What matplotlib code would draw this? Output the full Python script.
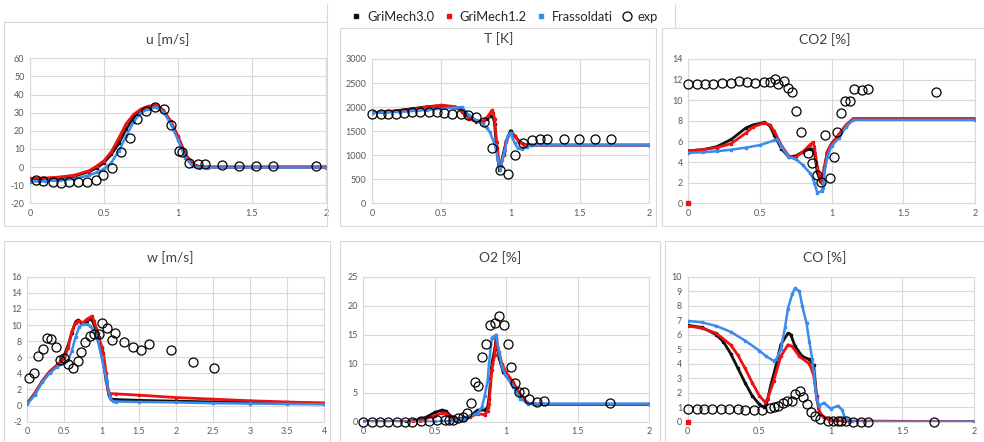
import matplotlib
matplotlib.use("Agg")
import matplotlib.pyplot as plt
from matplotlib.lines import Line2D
from matplotlib.patches import Rectangle

plt.rcParams['font.family'] = ['Lato', 'DejaVu Sans']

# ---------------- data ----------------
# u [m/s]
u_gm30_x = [0, 0.1, 0.2, 0.3, 0.4, 0.45, 0.5, 0.55, 0.6, 0.65, 0.7, 0.75, 0.8, 0.85, 0.9, 0.95, 1.0, 1.05, 1.1, 1.15, 1.2, 1.5, 2.0]
u_gm30 = [-6.5, -6.3, -6.0, -5.0, -2.5, -0.5, 2.5, 7, 13, 21, 27.5, 31.5, 33, 33.5, 31, 25, 16.5, 7, 1.5, 0, 0, 0, 0]
u_gm12_x = u_gm30_x
u_gm12 = [-6.3, -6.1, -5.5, -4.5, -2, 0.5, 3.5, 8.5, 16, 24, 29, 32, 33.5, 34.3, 31.5, 25.5, 17, 7, 1.5, 0.2, 0, 0, 0]
u_fras_x = u_gm30_x
u_fras = [-8, -7.8, -7.4, -6.5, -4.5, -3, -1, 2.5, 9, 17, 25, 30, 32, 33, 30.5, 24, 15, 5, 0.5, -0.3, -0.3, -0.3, -0.3]
u_exp_x = [0.038, 0.09, 0.153, 0.212, 0.264, 0.323, 0.384, 0.445, 0.492, 0.555, 0.614, 0.675, 0.725, 0.783, 0.842,
           0.903, 0.953, 1.009, 1.03, 1.072, 1.133, 1.183, 1.30, 1.41, 1.53, 1.64, 1.93]
u_exp = [-7.2, -7.5, -8.1, -8.6, -8.3, -8.4, -8.3, -7.2, -4.6, -0.6, 8.1, 16.3, 26.4, 31.2, 33.4,
         32.1, 23.3, 9.0, 8.5, 2.0, 1.7, 1.5, 1.1, 0.7, 0.7, 0.4, 0.4]

# T [K]
T_gm30_x = [0, 0.2, 0.4, 0.5, 0.6, 0.65, 0.7, 0.75, 0.8, 0.83, 0.86, 0.875, 0.885, 0.9, 0.91, 0.92, 0.95, 0.97, 1.0, 1.03, 1.06, 1.1, 1.15, 2.0]
T_gm30 = [1880, 1930, 2010, 2030, 2000, 1950, 1790, 1720, 1700, 1750, 1820, 1800, 1650, 1150, 900, 700, 1050, 1300, 1510, 1400, 1300, 1220, 1210, 1210]
T_gm12_x = [0, 0.2, 0.4, 0.5, 0.6, 0.65, 0.7, 0.75, 0.8, 0.84, 0.865, 0.875, 0.885, 0.9, 0.917, 0.93, 0.95, 0.97, 1.0, 1.03, 1.06, 1.1, 1.15, 2.0]
T_gm12 = [1880, 1920, 2000, 2040, 2010, 1900, 1760, 1700, 1700, 1820, 1930, 1880, 1750, 1280, 860, 780, 1000, 1300, 1470, 1400, 1280, 1200, 1210, 1210]
T_fras_x = [0, 0.2, 0.4, 0.6, 0.65, 0.7, 0.75, 0.8, 0.83, 0.85, 0.888, 0.91, 0.924, 0.94, 0.96, 0.98, 1.0, 1.03, 1.054, 1.08, 1.12, 1.15, 2.0]
T_fras = [1880, 1900, 1940, 1990, 2000, 1830, 1730, 1650, 1560, 1486, 1208, 900, 690, 900, 1100, 1400, 1460, 1250, 1146, 1120, 1180, 1210, 1210]
T_exp_x = [0, 0.067, 0.115, 0.173, 0.233, 0.29, 0.348, 0.408, 0.466, 0.523, 0.581, 0.639, 0.694, 0.751, 0.809,
           0.869, 0.927, 0.984, 1.035, 1.092, 1.152, 1.212, 1.26, 1.388, 1.491, 1.613, 1.724]
T_exp = [1851, 1851, 1858, 1865, 1879, 1900, 1900, 1907, 1893, 1879, 1865, 1851, 1837, 1795, 1684,
         1150, 682, 612, 1009, 1253, 1322, 1329, 1329, 1329, 1329, 1329, 1329]

# CO2 [%]
co2_gm30_x = [0, 0.1, 0.2, 0.3, 0.4, 0.45, 0.53, 0.57, 0.6, 0.65, 0.7, 0.75, 0.8, 0.85, 0.87, 0.88, 0.9, 0.92, 0.93, 0.95, 0.97, 1.0, 1.05, 1.1, 1.15, 2.0]
co2_gm30 = [5.1, 5.2, 5.5, 6.2, 7.3, 7.6, 7.85, 7.5, 6.6, 5.3, 4.5, 4.6, 5.0, 5.3, 5.2, 4.9, 3.0, 2.2, 2.0, 3.5, 5.0, 5.8, 6.5, 7.5, 8.2, 8.2]
co2_gm12_x = [0, 0.1, 0.2, 0.3, 0.4, 0.45, 0.53, 0.57, 0.6, 0.65, 0.7, 0.74, 0.8, 0.85, 0.87, 0.88, 0.9, 0.92, 0.93, 0.95, 0.97, 1.0, 1.05, 1.1, 1.15, 2.0]
co2_gm12 = [5.1, 5.2, 5.4, 5.8, 6.8, 7.4, 7.8, 7.6, 7.0, 5.6, 4.6, 4.4, 5.0, 5.7, 5.9, 5.5, 3.5, 2.5, 2.0, 3.5, 5.0, 5.8, 6.7, 7.6, 8.2, 8.2]
co2_fras_x = [0, 0.1, 0.2, 0.3, 0.4, 0.5, 0.6, 0.62, 0.65, 0.7, 0.75, 0.8, 0.85, 0.87, 0.88, 0.9, 0.93, 0.94, 0.95, 0.97, 1.0, 1.05, 1.1, 1.15, 2.0]
co2_fras = [4.9, 4.95, 5.05, 5.2, 5.4, 5.65, 6.1, 6.2, 5.5, 4.5, 4.3, 3.7, 2.9, 2.4, 2.0, 1.0, 1.2, 1.5, 3.0, 4.5, 5.6, 6.3, 7.4, 8.1, 8.1]
co2_gm12_stray = [0.0]
co2_exp_x = [0, 0.063, 0.116, 0.174, 0.237, 0.298, 0.351, 0.407, 0.465, 0.526, 0.572, 0.605, 0.628, 0.668, 0.694,
             0.726, 0.754, 0.784, 0.837, 0.865, 0.896, 0.924, 0.954, 0.989, 1.015, 1.036, 1.066, 1.094, 1.128,
             1.154, 1.21, 1.256, 1.728]
co2_exp = [11.6, 11.6, 11.6, 11.6, 11.7, 11.7, 11.9, 11.8, 11.7, 11.8, 11.8, 12.05, 11.6, 11.9, 11.15,
           10.8, 9.0, 6.9, 4.9, 3.95, 2.7, 2.1, 6.6, 2.5, 4.45, 6.9, 8.8, 9.9, 9.9,
           11.05, 10.95, 11.1, 10.8]

# w [m/s]
w_gm30_x = [0, 0.1, 0.2, 0.3, 0.4, 0.45, 0.5, 0.55, 0.6, 0.65, 0.68, 0.72, 0.76, 0.8, 0.85, 0.88, 0.92, 0.96, 1.0, 1.03, 1.06, 1.1, 1.13, 1.2, 1.5, 2.0, 2.5, 3.0, 3.5, 4.0]
w_gm30 = [0.3, 1.5, 3.0, 4.2, 5.0, 5.5, 6.3, 7.5, 9.0, 10.4, 10.6, 10.3, 10.2, 10.5, 10.8, 10.5, 9.5, 8.5, 7.0, 5.0, 3.2, 1.3, 0.8, 0.75, 0.65, 0.55, 0.45, 0.4, 0.35, 0.3]
w_gm12_x = [0, 0.1, 0.2, 0.3, 0.4, 0.45, 0.5, 0.55, 0.6, 0.65, 0.7, 0.75, 0.8, 0.87, 0.9, 0.95, 1.0, 1.025, 1.06, 1.09, 1.115, 1.2, 1.5, 2.0, 2.5, 3.0, 3.5, 4.0]
w_gm12 = [0.3, 1.5, 3.0, 4.2, 5.0, 5.4, 5.9, 7.2, 9.2, 10.3, 10.5, 10.3, 10.7, 11.1, 10.5, 9.0, 7.3, 6.5, 4.0, 1.8, 1.5, 1.45, 1.3, 1.0, 0.8, 0.6, 0.45, 0.3]
w_fras_x = [0, 0.1, 0.2, 0.3, 0.4, 0.5, 0.55, 0.6, 0.65, 0.7, 0.75, 0.8, 0.85, 0.9, 0.95, 1.0, 1.07, 1.115, 1.15, 1.2, 1.5, 2.0, 2.5, 3.0, 3.5, 4.0]
w_fras = [0.2, 1.3, 2.9, 4.0, 4.8, 5.3, 5.6, 6.8, 8.5, 9.8, 10.1, 10.1, 9.9, 9.2, 8.0, 6.0, 3.0, 0.9, 0.55, 0.5, 0.45, 0.4, 0.3, 0.25, 0.2, 0.15]
w_exp_x = [0.027, 0.09, 0.148, 0.211, 0.26, 0.319, 0.382, 0.436, 0.499, 0.553, 0.611, 0.679, 0.724, 0.782, 0.845,
           0.903, 0.962, 1.011, 1.074, 1.137, 1.182, 1.303, 1.42, 1.537, 1.645, 1.933, 2.225, 2.517]
w_exp = [3.46, 4.08, 6.15, 7.02, 8.43, 8.26, 7.27, 5.66, 5.86, 5.12, 4.7, 5.49, 6.69, 7.85, 8.59,
         8.88, 8.92, 10.29, 9.59, 8.1, 9.05, 7.85, 7.27, 6.94, 7.68, 6.9, 5.37, 4.66]

# O2 [%]
o2_gm30_x = [0, 0.3, 0.4, 0.45, 0.5, 0.55, 0.58, 0.62, 0.65, 0.7, 0.75, 0.8, 0.85, 0.87, 0.88, 0.9, 0.92, 0.93, 0.95, 0.98, 1.0, 1.05, 1.1, 1.15, 1.2, 2.0]
o2_gm30 = [0, 0, 0.4, 0.9, 1.6, 2.0, 1.8, 0.8, 0.4, 0.6, 1.0, 2.0, 2.0, 2.5, 4.0, 10, 12.5, 14.5, 11, 8.5, 8.0, 6.5, 4.5, 3.2, 3.0, 3.0]
o2_gm12_x = [0, 0.35, 0.4, 0.5, 0.55, 0.58, 0.62, 0.65, 0.7, 0.75, 0.8, 0.85, 0.87, 0.88, 0.9, 0.92, 0.93, 0.95, 0.97, 1.0, 1.05, 1.1, 1.15, 1.2, 2.0]
o2_gm12 = [0, 0, 0.2, 1.0, 1.5, 1.4, 0.6, 0.2, 0.3, 0.8, 1.4, 1.2, 1.8, 3.0, 9.0, 11.5, 14.2, 12, 10, 8.5, 6.8, 4.7, 3.2, 3.0, 3.0]
o2_fras_x = [0, 0.5, 0.6, 0.7, 0.75, 0.8, 0.83, 0.85, 0.87, 0.88, 0.9, 0.93, 0.95, 0.97, 1.0, 1.05, 1.1, 1.15, 2.0]
o2_fras = [0, 0, 0.1, 0.5, 1.0, 1.5, 2.5, 4.5, 7, 10, 14.5, 15, 12, 9.5, 7.8, 6, 4, 3.1, 3.1]
o2_exp_x = [0, 0.058, 0.117, 0.173, 0.233, 0.289, 0.343, 0.401, 0.462, 0.518, 0.574, 0.602, 0.63, 0.665, 0.695,
            0.723, 0.756, 0.782, 0.803, 0.833, 0.859, 0.887, 0.922, 0.952, 0.985, 1.015, 1.031, 1.062, 1.09,
            1.125, 1.157, 1.213, 1.265, 1.727]
o2_exp = [0, 0, 0, 0, 0, 0, 0, 0.06, 0.17, 0.34, 0.34, 0.29, 0.34, 0.69, 0.86,
          1.44, 3.2, 6.84, 6.1, 11.1, 13.4, 16.7, 17.0, 18.2, 16.7, 13.4, 9.5, 6.6, 5.2,
          5.2, 3.85, 3.4, 3.5, 3.3]

# CO [%]
co_gm30_x = [0, 0.1, 0.2, 0.25, 0.3, 0.35, 0.4, 0.45, 0.5, 0.53, 0.55, 0.58, 0.62, 0.65, 0.7, 0.72, 0.75, 0.8, 0.85, 0.88, 0.9, 0.92, 0.95, 1.0, 1.1, 2.0]
co_gm30 = [6.65, 6.5, 6.0, 5.5, 4.7, 3.7, 2.7, 1.8, 1.2, 1.0, 1.2, 2.5, 4.0, 5.3, 6.1, 6.0, 5.2, 4.5, 4.3, 3.9, 1.8, 0.6, 0.3, 0.1, 0.0, 0.0]
co_gm12_x = [0, 0.1, 0.2, 0.3, 0.35, 0.4, 0.45, 0.5, 0.54, 0.56, 0.6, 0.65, 0.7, 0.73, 0.78, 0.85, 0.88, 0.9, 0.92, 0.95, 1.0, 1.1, 2.0]
co_gm12 = [6.6, 6.45, 6.1, 5.3, 4.6, 3.7, 2.7, 1.8, 1.35, 1.6, 2.8, 4.5, 5.3, 5.2, 4.5, 4.0, 3.2, 1.8, 0.7, 0.3, 0.1, 0.05, 0.0]
co_fras_x = [0, 0.1, 0.2, 0.3, 0.4, 0.5, 0.55, 0.6, 0.62, 0.65, 0.68, 0.7, 0.73, 0.75, 0.78, 0.8, 0.83, 0.85, 0.87, 0.88, 0.9, 0.92, 0.95, 1.0, 1.05, 1.08, 1.1, 1.15, 2.0]
co_fras = [6.95, 6.85, 6.6, 6.2, 5.6, 4.9, 4.5, 4.2, 4.3, 5.0, 6.5, 7.8, 8.8, 9.2, 9.0, 8.0, 6.8, 5.5, 4.3, 3.5, 1.5, 1.1, 1.3, 0.9, 1.1, 0.8, 0.2, 0.0, 0.0]
co_gm12_stray = [0.0]
co_exp_x = [0, 0.063, 0.116, 0.172, 0.233, 0.291, 0.349, 0.4, 0.46, 0.521, 0.574, 0.605, 0.633, 0.665, 0.695,
            0.726, 0.753, 0.784, 0.807, 0.833, 0.86, 0.891, 0.923, 0.981, 1.016, 1.047, 1.074, 1.109, 1.156,
            1.214, 1.26, 1.72]
co_exp = [0.85, 0.85, 0.9, 0.9, 0.9, 0.9, 0.85, 0.8, 0.78, 0.83, 0.94, 1.03, 1.1, 1.26, 1.45,
          1.45, 1.89, 2.11, 1.72, 1.22, 0.64, 0.39, 0.21, 0.07, 0.07, 0.07, 0.05, 0.02, 0,
          0, 0, 0]

titles = ['u [m/s]', 'T [K]', 'CO2 [%]', 'w [m/s]', 'O2 [%]', 'CO [%]']
series_names = ['GriMech3.0', 'GriMech1.2', 'Frassoldati', 'exp']

# ---------------- figure ----------------
W, H = 984, 442
fig = plt.figure(figsize=(W / 100, H / 100), dpi=100)

def px_axes(x0, y0, x1, y1):
    return fig.add_axes([x0 / W, 1 - y1 / H, (x1 - x0) / W, (y1 - y0) / H])

def px_box(x0, y0, x1, y1):
    fig.add_artist(Rectangle((x0 / W, 1 - y1 / H), (x1 - x0) / W, (y1 - y0) / H,
                             transform=fig.transFigure, fill=False, ec='#d9d9d9', lw=0.8))

# chart area borders (Excel style)
px_box(4, 22, 327, 226)
px_box(340, 28, 656, 226)
px_box(662, 28, 990, 226)
px_box(4, 241, 330, 446)
px_box(340, 241, 660, 446)
px_box(665, 241, 990, 446)
for xx in (327, 675):
    fig.add_artist(Line2D([xx / W, xx / W], [1 - 27 / H, 1 - 4 / H], transform=fig.transFigure,
                          color='#d9d9d9', lw=0.8))

axes_px = [(30, 58.3, 326, 203.3), (372, 59, 649, 203.3), (688.3, 59, 975, 203.3),
           (27.3, 276.7, 324.3, 421.7), (363.3, 276.7, 649, 421.7), (687.7, 276.7, 974, 421.7)]
title_px = [(168, 40), (499, 39), (825, 40), (170, 258), (500, 258), (825, 258)]

panels = [
    (u_gm30_x, u_gm30, u_gm12_x, u_gm12, u_fras_x, u_fras, u_exp_x, u_exp, (-20, 60, 10), 2),
    (T_gm30_x, T_gm30, T_gm12_x, T_gm12, T_fras_x, T_fras, T_exp_x, T_exp, (0, 3000, 500), 2),
    (co2_gm30_x, co2_gm30, co2_gm12_x, co2_gm12, co2_fras_x, co2_fras, co2_exp_x, co2_exp, (0, 14, 2), 2),
    (w_gm30_x, w_gm30, w_gm12_x, w_gm12, w_fras_x, w_fras, w_exp_x, w_exp, (-2, 16, 2), 4),
    (o2_gm30_x, o2_gm30, o2_gm12_x, o2_gm12, o2_fras_x, o2_fras, o2_exp_x, o2_exp, (0, 25, 5), 2),
    (co_gm30_x, co_gm30, co_gm12_x, co_gm12, co_fras_x, co_fras, co_exp_x, co_exp, (0, 10, 1), 2),
]

black, red, blue = '#111111', '#ee1111', '#3a8bee'

def fmt(v):
    return ('%g' % v)

for i, (pn, box, tp) in enumerate(zip(panels, axes_px, title_px)):
    gx, gy, rx, ry, bx, by, ex, ey, (ylo, yhi, ystep), xmax = pn
    ax = px_axes(*box)
    ax.plot(gx, gy, color=black, lw=2.0, marker='s', ms=1.8, zorder=3)
    ax.plot(rx, ry, color=red, lw=2.0, marker='s', ms=1.8, zorder=4)
    ax.plot(bx, by, color=blue, lw=1.8, marker='s', ms=1.5, zorder=5)
    ax.plot(ex, ey, ls='none', marker='o', ms=6.5, mfc='none', mec='black', mew=0.9, zorder=6,
            clip_on=False)
    if i == 2:
        ax.plot([0], co2_gm12_stray, ls='none', marker='s', ms=2.2, color=red, clip_on=False, zorder=7)
    if i == 5:
        ax.plot([0], co_gm12_stray, ls='none', marker='s', ms=2.2, color=red, clip_on=False, zorder=7)

    ax.set_xlim(0, xmax)
    ax.set_ylim(ylo, yhi)
    xt = [k * 0.5 for k in range(int(xmax * 2) + 1)]
    ax.set_xticks(xt)
    ax.set_xticklabels([fmt(v) for v in xt])
    yt = list(range(ylo, yhi + ystep, ystep))
    ax.set_yticks(yt)
    ax.set_yticklabels([fmt(v) for v in yt])
    ax.tick_params(length=0, labelsize=6.5, colors='#595959', pad=4)
    ax.grid(True, color='#d9d9d9', lw=0.8)
    ax.set_axisbelow(True)
    for s in ax.spines.values():
        s.set_color('#d9d9d9')
        s.set_linewidth(0.8)
    fig.text(tp[0] / W, 1 - tp[1] / H, titles[i], ha='center', va='center', fontsize=10, color='#404040')

handles = [
    Line2D([], [], ls='none', marker='s', ms=2.5, color=black),
    Line2D([], [], ls='none', marker='s', ms=2.5, color=red),
    Line2D([], [], ls='none', marker='s', ms=2.5, color=blue),
    Line2D([], [], ls='none', marker='o', ms=6.5, mfc='none', mec='black', mew=0.9),
]
fig.legend(handles, series_names, loc='center', bbox_to_anchor=(504 / W, 1 - 17 / H), ncol=4,
           frameon=False, fontsize=9.3, handletextpad=0.35, columnspacing=0.6, handlelength=1.0,
           labelcolor='#262626')

fig.savefig('out.png', dpi=100)
